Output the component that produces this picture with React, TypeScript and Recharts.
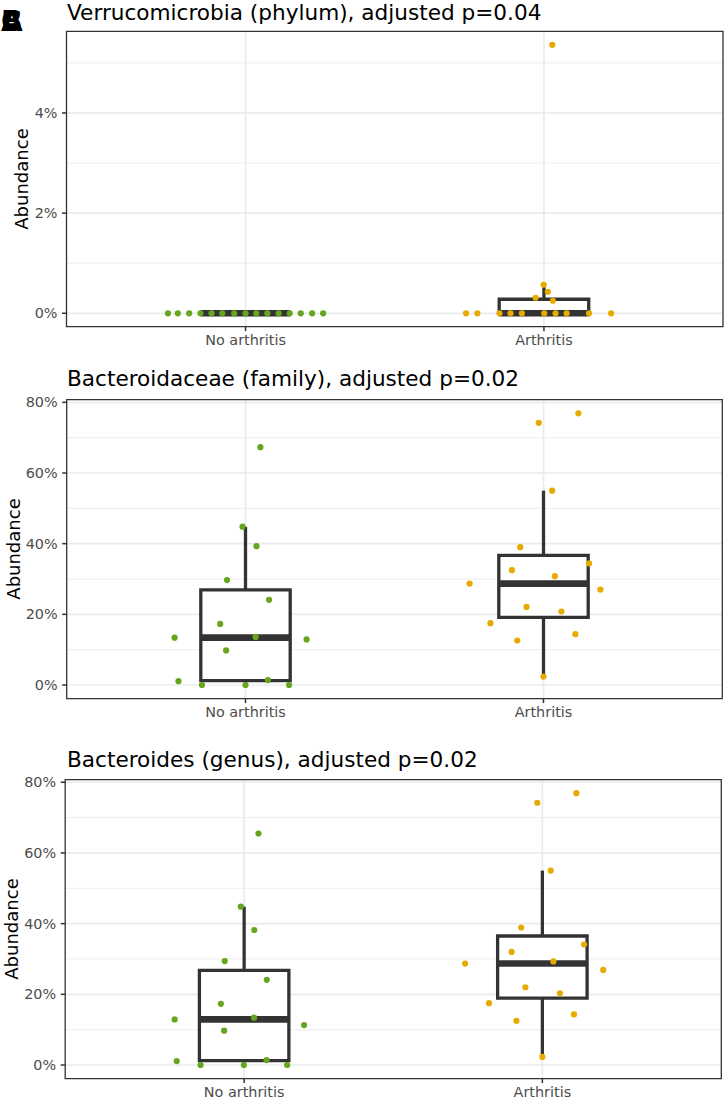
import React from 'react';
import {
  ComposedChart,
  Scatter,
  XAxis,
  YAxis,
  CartesianGrid,
  ReferenceArea,
  ReferenceLine,
} from 'recharts';

// ---------- data ----------
const categories = ['No arthritis', 'Arthritis'];
const groupColors = ['#66A61E', '#E6AB02'];
const panelLetters = ['A', 'B', 'C'];
const panelTitles = [
  'Verrucomicrobia (phylum), adjusted p=0.04',
  'Bacteroidaceae (family), adjusted p=0.02',
  'Bacteroides (genus), adjusted p=0.02',
];

// Panel A: Verrucomicrobia (abundance in %)
const phylumNoY = [0, 0, 0, 0, 0, 0, 0, 0, 0, 0, 0, 0, 0, 0, 0];
const phylumNoJitter = [-0.26, -0.227, -0.189, -0.151, -0.114, -0.078, -0.038, 0, 0.036, 0.073, 0.111, 0.148, 0.185, 0.223, 0.26];
const phylumArY = [0, 0, 0, 0, 0, 0, 0, 0, 0, 0, 0.57, 0.43, 0.31, 0.25, 5.36];
const phylumArJitter = [-0.261, -0.223, -0.149, -0.112, -0.074, 0.001, 0.039, 0.076, 0.151, 0.225, -0.001, 0.013, -0.028, 0.03, 0.028];
const phylumTicks = [0, 2, 4];
const phylumMinor = [1, 3, 5];
const phylumTickLabels = ['0%', '2%', '4%'];

// Panel B: Bacteroidaceae
const familyNoY = [67.3, 44.8, 39.3, 29.7, 24.1, 17.3, 13.4, 13.6, 12.9, 9.8, 1.1, 1.4, 0, 0, 0];
const familyNoJitter = [0.05, -0.01, 0.037, -0.062, 0.079, -0.085, -0.238, 0.034, 0.205, -0.065, -0.225, 0.075, -0.146, 0, 0.146];
const familyArY = [76.9, 74.2, 55.0, 39.0, 34.4, 32.5, 30.8, 28.7, 27.0, 22.1, 20.8, 17.5, 14.4, 12.6, 2.4];
const familyArJitter = [0.117, -0.016, 0.029, -0.078, 0.153, -0.106, 0.038, -0.248, 0.191, -0.057, 0.06, -0.178, 0.107, -0.088, 0];

// Panel C: Bacteroides
const genusNoY = [65.5, 44.8, 38.2, 29.4, 24.1, 17.3, 12.9, 13.4, 11.3, 9.7, 1.1, 1.4, 0, 0, 0];
const genusNoJitter = [0.048, -0.011, 0.034, -0.065, 0.076, -0.078, -0.233, 0.033, 0.201, -0.067, -0.226, 0.075, -0.146, -0.001, 0.144];
const genusArY = [76.9, 74.2, 55.0, 38.9, 34.1, 32.0, 29.3, 28.7, 26.9, 22.0, 20.3, 17.5, 14.3, 12.5, 2.3];
const genusArJitter = [0.114, -0.017, 0.028, -0.071, 0.14, -0.103, 0.037, -0.259, 0.204, -0.057, 0.059, -0.179, 0.106, -0.087, 0];

const pctTicks = [0, 20, 40, 60, 80];
const pctMinor = [10, 30, 50, 70];
const pctTickLabels = ['0%', '20%', '40%', '60%', '80%'];

// ---------- helpers ----------
function quantile(sorted: number[], p: number) {
  const h = (sorted.length - 1) * p;
  const lo = Math.floor(h);
  const hi = Math.min(lo + 1, sorted.length - 1);
  return sorted[lo] + (h - lo) * (sorted[hi] - sorted[lo]);
}

function boxStats(vals: number[]) {
  const s = [...vals].sort((a, b) => a - b);
  const q1 = quantile(s, 0.25);
  const med = quantile(s, 0.5);
  const q3 = quantile(s, 0.75);
  const iqr = q3 - q1;
  const hi = Math.max(...s.filter((v) => v <= q3 + 1.5 * iqr));
  const lo = Math.min(...s.filter((v) => v >= q1 - 1.5 * iqr));
  return { q1, med, q3, lo, hi };
}

function makePoints(ys: number[], jit: number[], cat: number) {
  return ys.map((y, i) => ({ x: cat + 1 + jit[i], y }));
}

const FONT = 'DejaVu Sans, Verdana, sans-serif';
const BOX_HALF = 0.15;

type PanelCfg = {
  top: number;
  height: number;
  marginTop: number;
  right: number;
  yAxisWidth: number;
  xAxisHeight: number;
  ticks: number[];
  minor: number[];
  tickLabels: string[];
  groups: { ys: number[]; jit: number[] }[];
};

const panels: PanelCfg[] = [
  {
    top: 0, height: 352, marginTop: 31.4, right: 3, yAxisWidth: 66.5, xAxisHeight: 25.3,
    ticks: phylumTicks, minor: phylumMinor, tickLabels: phylumTickLabels,
    groups: [{ ys: phylumNoY, jit: phylumNoJitter }, { ys: phylumArY, jit: phylumArJitter }],
  },
  {
    top: 360, height: 365, marginTop: 39.7, right: 3.7, yAxisWidth: 66.7, xAxisHeight: 26.4,
    ticks: pctTicks, minor: pctMinor, tickLabels: pctTickLabels,
    groups: [{ ys: familyNoY, jit: familyNoJitter }, { ys: familyArY, jit: familyArJitter }],
  },
  {
    top: 740, height: 361, marginTop: 39.6, right: 4.7, yAxisWidth: 65.2, xAxisHeight: 22.4,
    ticks: pctTicks, minor: pctMinor, tickLabels: pctTickLabels,
    groups: [{ ys: genusNoY, jit: genusNoJitter }, { ys: genusArY, jit: genusArJitter }],
  },
];

function Panel({ cfg }: { cfg: PanelCfg }) {
  const all = cfg.groups.flatMap((g) => g.ys);
  const mn = Math.min(...all);
  const mx = Math.max(...all);
  const pad = (mx - mn) * 0.05;
  const domain: [number, number] = [mn - pad, mx + pad];

  const boxes = cfg.groups.map((g, i) => ({ cat: i + 1, ...boxStats(g.ys) }));

  return (
    <div style={{ position: 'absolute', left: 0, top: cfg.top, width: 726, height: cfg.height }}>
      <ComposedChart
        width={726}
        height={cfg.height}
        margin={{ top: cfg.marginTop, right: cfg.right, bottom: 0, left: 0 }}
      >
        <CartesianGrid
          horizontalValues={cfg.minor}
          vertical={false}
          stroke="#ebebeb"
          strokeWidth={0.9}
        />
        <CartesianGrid
          horizontalValues={cfg.ticks}
          verticalValues={[1, 2]}
          stroke="#ebebeb"
          strokeWidth={1.7}
        />
        <XAxis
          type="number"
          dataKey="x"
          domain={[0.4, 2.6]}
          ticks={[1, 2]}
          interval={0}
          allowDataOverflow
          height={cfg.xAxisHeight}
          axisLine={false}
          tickSize={4.5}
          tickMargin={3.6}
          tickLine={{ stroke: '#333333', strokeWidth: 1.5 }}
          tick={{ fill: '#4d4d4d', fontSize: 14.4, fontFamily: FONT }}
          tickFormatter={(v: number) => categories[Math.round(v) - 1]}
        />
        <YAxis
          type="number"
          dataKey="y"
          domain={domain}
          ticks={cfg.ticks}
          interval={0}
          allowDataOverflow
          width={cfg.yAxisWidth}
          axisLine={false}
          tickSize={4.5}
          tickMargin={4.5}
          tickLine={{ stroke: '#333333', strokeWidth: 1.5 }}
          tick={{ fill: '#4d4d4d', fontSize: 14.4, fontFamily: FONT }}
          tickFormatter={(v: number) => cfg.tickLabels[cfg.ticks.indexOf(v)]}
        />
        {boxes.map((b) => (
          <ReferenceLine
            key={'wu' + b.cat}
            segment={[{ x: b.cat, y: b.q3 }, { x: b.cat, y: b.hi }]}
            stroke="#333333"
            strokeWidth={3.3}
            ifOverflow="visible"
          />
        ))}
        {boxes.map((b) => (
          <ReferenceLine
            key={'wl' + b.cat}
            segment={[{ x: b.cat, y: b.q1 }, { x: b.cat, y: b.lo }]}
            stroke="#333333"
            strokeWidth={3.3}
            ifOverflow="visible"
          />
        ))}
        {boxes.map((b) => (
          <ReferenceArea
            key={'bx' + b.cat}
            x1={b.cat - BOX_HALF}
            x2={b.cat + BOX_HALF}
            y1={b.q1}
            y2={b.q3}
            fill="#ffffff"
            fillOpacity={1}
            stroke="#333333"
            strokeWidth={3.3}
            ifOverflow="visible"
          />
        ))}
        {boxes.map((b) => (
          <ReferenceLine
            key={'md' + b.cat}
            segment={[{ x: b.cat - BOX_HALF, y: b.med }, { x: b.cat + BOX_HALF, y: b.med }]}
            stroke="#333333"
            strokeWidth={6.6}
            ifOverflow="visible"
          />
        ))}
        <ReferenceArea
          x1={0.4}
          x2={2.6}
          y1={domain[0]}
          y2={domain[1]}
          fill="none"
          stroke="#333333"
          strokeWidth={1.3}
          ifOverflow="visible"
        />
        {cfg.groups.map((g, i) => (
          <Scatter
            key={'pts' + i}
            data={makePoints(g.ys, g.jit, i)}
            dataKey="y"
            fill={groupColors[i]}
            isAnimationActive={false}
            shape={(p: any) => <circle cx={p.cx} cy={p.cy} r={3.1} fill={groupColors[i]} />}
          />
        ))}
      </ComposedChart>
    </div>
  );
}

const titleBaselines = [19.5, 386, 766.5];
const axisTitleX = [28.3, 20, 18.3];
const axisTitleY = [179, 549, 929];

export default function App() {
  return (
    <div style={{ position: 'absolute', left: 0, top: 0, width: 726, height: 1101, background: '#ffffff', overflow: 'hidden' }}>
      {panels.map((p, i) => (
        <Panel key={i} cfg={p} />
      ))}
      <svg
        width={726}
        height={1101}
        style={{ position: 'absolute', left: 0, top: 0, pointerEvents: 'none' }}
      >
        {panelLetters.map((l) => (
          <text key={l} x={1} y={31} fontFamily={FONT} fontWeight="bold" fontSize={28} fill="#000">
            {l}
          </text>
        ))}
        {panelTitles.map((t, i) => (
          <text key={t} x={67} y={titleBaselines[i]} fontFamily={FONT} fontSize={21.6} fill="#000">
            {t}
          </text>
        ))}
        {axisTitleX.map((x, i) => (
          <text
            key={'ab' + i}
            x={x}
            y={axisTitleY[i]}
            transform={`rotate(-90 ${x} ${axisTitleY[i]})`}
            textAnchor="middle"
            fontFamily={FONT}
            fontSize={18}
            fill="#000"
          >
            Abundance
          </text>
        ))}
      </svg>
    </div>
  );
}
